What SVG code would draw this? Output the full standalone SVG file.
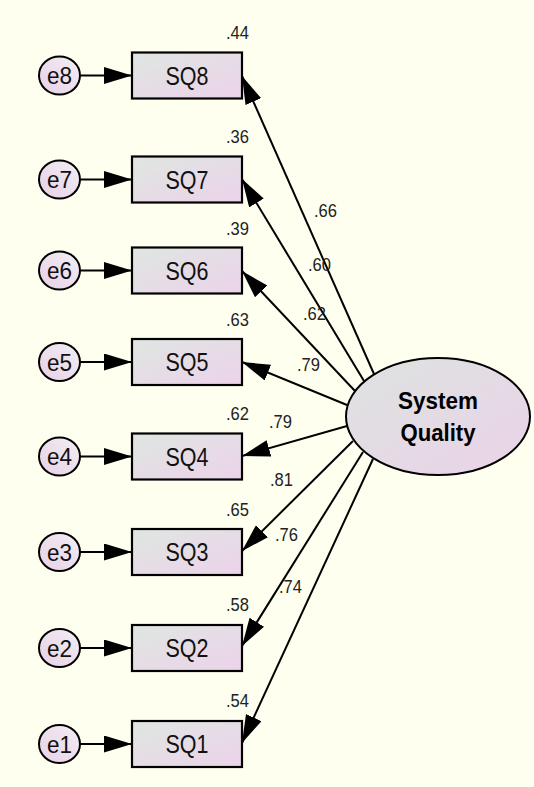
<svg xmlns="http://www.w3.org/2000/svg" width="534" height="787" viewBox="0 0 534 787">
  <defs>
    <linearGradient id="boxFill" x1="0" y1="0" x2="1" y2="1">
      <stop offset="0" stop-color="#dfe6e1"/>
      <stop offset="1" stop-color="#ecd3ea"/>
    </linearGradient>
    <linearGradient id="errFill" x1="1" y1="0" x2="0" y2="1">
      <stop offset="0" stop-color="#f2eef2"/>
      <stop offset="1" stop-color="#e8d0e8"/>
    </linearGradient>
    <linearGradient id="latentFill" x1="0" y1="0" x2="1" y2="1">
      <stop offset="0" stop-color="#dde3e1"/>
      <stop offset="1" stop-color="#ebd2e8"/>
    </linearGradient>
    <marker id="arrow" markerUnits="userSpaceOnUse" viewBox="0 0 28 17" refX="28" refY="8.5" markerWidth="28" markerHeight="17" orient="auto">
      <path d="M0,0 L28,8.5 L0,17 Z" fill="#000"/>
    </marker>
  </defs>
  <style>
    text { font-family: "Liberation Sans", Arial, sans-serif; fill: #111; }
    .box { fill: url(#boxFill); stroke: #000; stroke-width: 2.2; }
    .err { fill: url(#errFill); stroke: #000; stroke-width: 2; }
    .latent { fill: url(#latentFill); stroke: #000; stroke-width: 2; }
    .lbl { font-size: 25px; text-anchor: middle; }
    .elbl { font-size: 24px; text-anchor: middle; }
    .r2 { font-size: 19px; fill: #222; text-anchor: end; }
    .coef { font-size: 19px; fill: #222; }
    .lat { font-size: 24px; font-weight: bold; text-anchor: middle; fill: #000; }
    .conn line { stroke: #000; stroke-width: 2; marker-end: url(#arrow); }
  </style>

  <rect width="534" height="787" fill="#fffff0"/>

  <!-- paths: error terms to indicators, latent factor to indicators -->
  <g id="connectors" class="conn">
    <line x1="80" y1="75.5" x2="132" y2="75.5"/>
    <line x1="80" y1="179.5" x2="132" y2="179.5"/>
    <line x1="80" y1="270.5" x2="132" y2="270.5"/>
    <line x1="80" y1="362" x2="132" y2="362"/>
    <line x1="80" y1="456.5" x2="132" y2="456.5"/>
    <line x1="80" y1="552" x2="132" y2="552"/>
    <line x1="80" y1="648" x2="132" y2="648"/>
    <line x1="80" y1="744" x2="132" y2="744"/>

    <line x1="374" y1="374" x2="242" y2="76"/>
    <line x1="364" y1="381" x2="242" y2="179"/>
    <line x1="355" y1="391" x2="242" y2="271"/>
    <line x1="347" y1="405" x2="242" y2="362"/>
    <line x1="347" y1="426" x2="242" y2="456"/>
    <line x1="353" y1="441" x2="242" y2="551"/>
    <line x1="363" y1="452" x2="242" y2="646"/>
    <line x1="373" y1="459" x2="242" y2="743"/>
  </g>

  <!-- path coefficients -->
  <g id="coefficients">
    <text class="coef" x="314" y="217" textLength="23" lengthAdjust="spacingAndGlyphs">.66</text>
    <text class="coef" x="308" y="271" textLength="23" lengthAdjust="spacingAndGlyphs">.60</text>
    <text class="coef" x="303" y="320" textLength="23" lengthAdjust="spacingAndGlyphs">.62</text>
    <text class="coef" x="297" y="371" textLength="23" lengthAdjust="spacingAndGlyphs">.79</text>
    <text class="coef" x="269" y="428" textLength="23" lengthAdjust="spacingAndGlyphs">.79</text>
    <text class="coef" x="270" y="486" textLength="23" lengthAdjust="spacingAndGlyphs">.81</text>
    <text class="coef" x="275" y="541" textLength="23" lengthAdjust="spacingAndGlyphs">.76</text>
    <text class="coef" x="279" y="593" textLength="23" lengthAdjust="spacingAndGlyphs">.74</text>
  </g>

  <g id="SQ8">
    <rect class="box" x="132" y="52.5" width="110" height="46"/>
    <text class="lbl" x="187" y="84.5" textLength="43" lengthAdjust="spacingAndGlyphs">SQ8</text>
    <text class="r2" x="249" y="39" textLength="23" lengthAdjust="spacingAndGlyphs">.44</text>
  </g>
  <g id="SQ7">
    <rect class="box" x="132" y="156.5" width="110" height="46"/>
    <text class="lbl" x="187" y="188.5" textLength="43" lengthAdjust="spacingAndGlyphs">SQ7</text>
    <text class="r2" x="249" y="143" textLength="23" lengthAdjust="spacingAndGlyphs">.36</text>
  </g>
  <g id="SQ6">
    <rect class="box" x="132" y="247.5" width="110" height="46"/>
    <text class="lbl" x="187" y="279.5" textLength="43" lengthAdjust="spacingAndGlyphs">SQ6</text>
    <text class="r2" x="249" y="235" textLength="23" lengthAdjust="spacingAndGlyphs">.39</text>
  </g>
  <g id="SQ5">
    <rect class="box" x="132" y="339" width="110" height="46"/>
    <text class="lbl" x="187" y="371" textLength="43" lengthAdjust="spacingAndGlyphs">SQ5</text>
    <text class="r2" x="249" y="326" textLength="23" lengthAdjust="spacingAndGlyphs">.63</text>
  </g>
  <g id="SQ4">
    <rect class="box" x="132" y="433.5" width="110" height="46"/>
    <text class="lbl" x="187" y="465.5" textLength="43" lengthAdjust="spacingAndGlyphs">SQ4</text>
    <text class="r2" x="249" y="420" textLength="23" lengthAdjust="spacingAndGlyphs">.62</text>
  </g>
  <g id="SQ3">
    <rect class="box" x="132" y="529" width="110" height="46"/>
    <text class="lbl" x="187" y="561" textLength="43" lengthAdjust="spacingAndGlyphs">SQ3</text>
    <text class="r2" x="249" y="516" textLength="23" lengthAdjust="spacingAndGlyphs">.65</text>
  </g>
  <g id="SQ2">
    <rect class="box" x="132" y="625" width="110" height="46"/>
    <text class="lbl" x="187" y="657" textLength="43" lengthAdjust="spacingAndGlyphs">SQ2</text>
    <text class="r2" x="249" y="611" textLength="23" lengthAdjust="spacingAndGlyphs">.58</text>
  </g>
  <g id="SQ1">
    <rect class="box" x="132" y="721" width="110" height="46"/>
    <text class="lbl" x="187" y="753" textLength="43" lengthAdjust="spacingAndGlyphs">SQ1</text>
    <text class="r2" x="249" y="707" textLength="23" lengthAdjust="spacingAndGlyphs">.54</text>
  </g>

  <g id="e8">
    <ellipse class="err" cx="59.5" cy="75.5" rx="20.5" ry="19"/>
    <text class="elbl" x="59.5" y="84" textLength="25" lengthAdjust="spacingAndGlyphs">e8</text>
  </g>
  <g id="e7">
    <ellipse class="err" cx="59.5" cy="179.5" rx="20.5" ry="19"/>
    <text class="elbl" x="59.5" y="188" textLength="25" lengthAdjust="spacingAndGlyphs">e7</text>
  </g>
  <g id="e6">
    <ellipse class="err" cx="59.5" cy="270.5" rx="20.5" ry="19"/>
    <text class="elbl" x="59.5" y="279" textLength="25" lengthAdjust="spacingAndGlyphs">e6</text>
  </g>
  <g id="e5">
    <ellipse class="err" cx="59.5" cy="362" rx="20.5" ry="19"/>
    <text class="elbl" x="59.5" y="370.5" textLength="25" lengthAdjust="spacingAndGlyphs">e5</text>
  </g>
  <g id="e4">
    <ellipse class="err" cx="59.5" cy="456.5" rx="20.5" ry="19"/>
    <text class="elbl" x="59.5" y="465" textLength="25" lengthAdjust="spacingAndGlyphs">e4</text>
  </g>
  <g id="e3">
    <ellipse class="err" cx="59.5" cy="552" rx="20.5" ry="19"/>
    <text class="elbl" x="59.5" y="560.5" textLength="25" lengthAdjust="spacingAndGlyphs">e3</text>
  </g>
  <g id="e2">
    <ellipse class="err" cx="59.5" cy="648" rx="20.5" ry="19"/>
    <text class="elbl" x="59.5" y="656.5" textLength="25" lengthAdjust="spacingAndGlyphs">e2</text>
  </g>
  <g id="e1">
    <ellipse class="err" cx="59.5" cy="744" rx="20.5" ry="19"/>
    <text class="elbl" x="59.5" y="752.5" textLength="25" lengthAdjust="spacingAndGlyphs">e1</text>
  </g>

  <g id="SystemQuality">
    <ellipse class="latent" cx="438" cy="416.5" rx="92" ry="58.5"/>
    <text class="lat" x="438" y="408.5" textLength="80" lengthAdjust="spacingAndGlyphs">System</text>
    <text class="lat" x="438" y="440.5" textLength="75" lengthAdjust="spacingAndGlyphs">Quality</text>
  </g>
</svg>
